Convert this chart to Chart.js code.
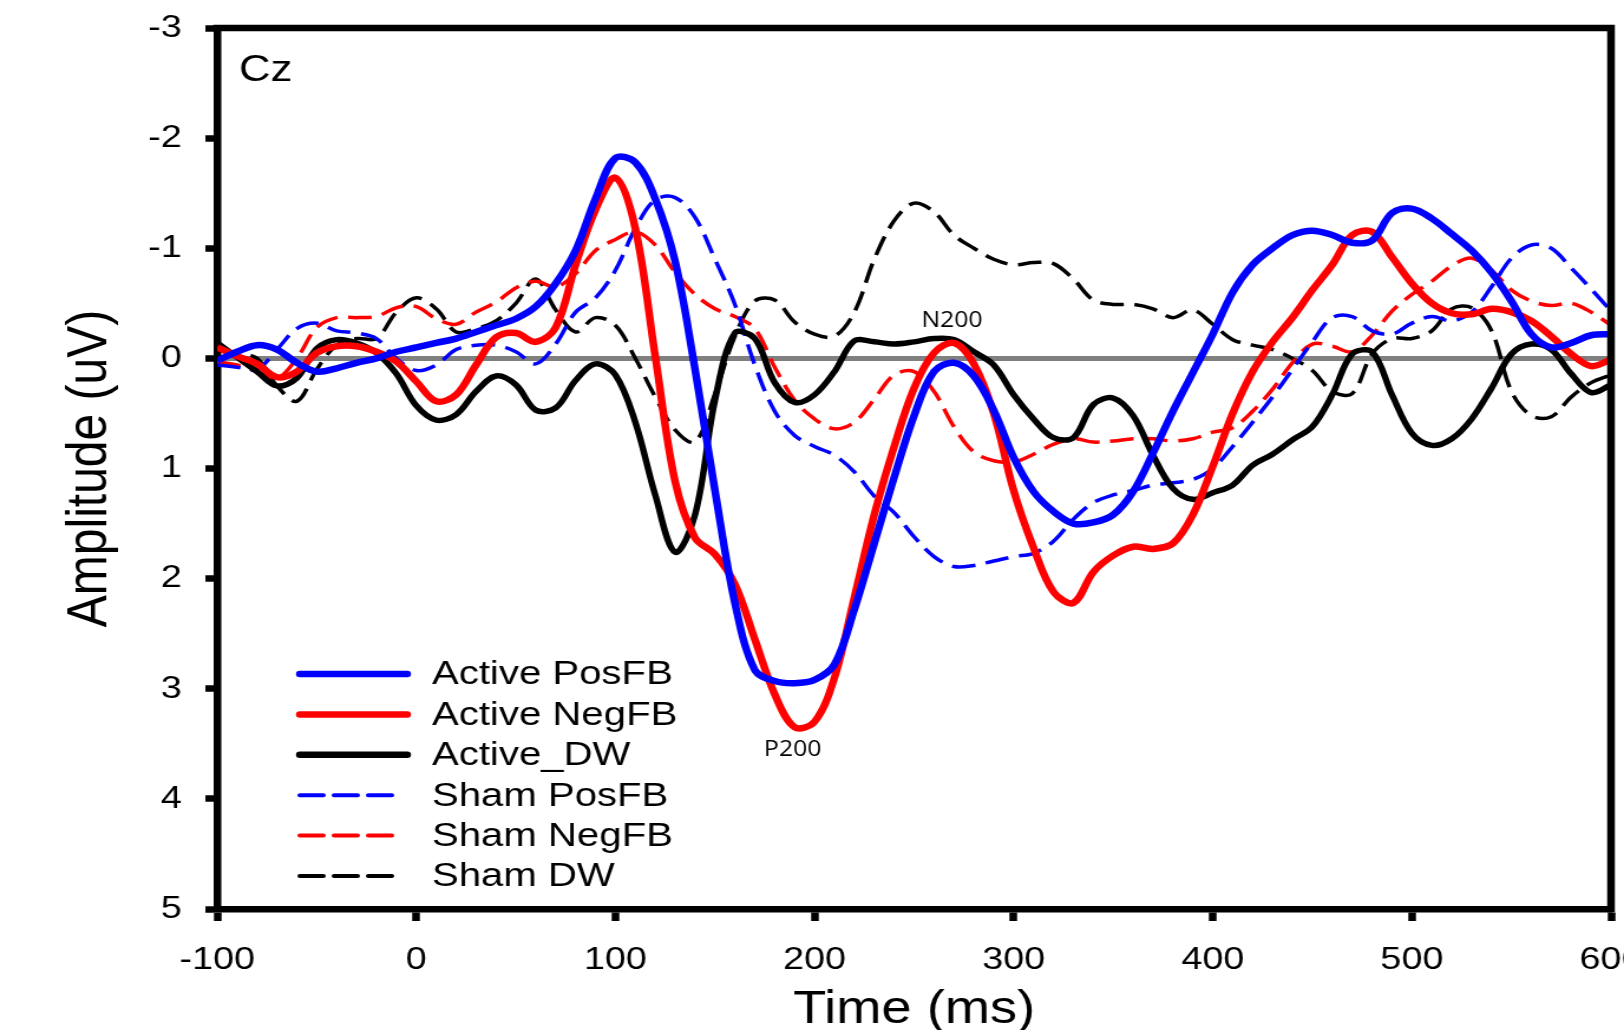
<!DOCTYPE html>
<html>
<head>
<meta charset="utf-8">
<title>Cz ERP</title>
<script src="https://cdn.jsdelivr.net/npm/chart.js@4.4.1/dist/chart.umd.min.js"></script>
<style>
  html, body { margin: 0; padding: 0; background: #fff; overflow: hidden; }
  /* the source figure is stretched sideways, so draw narrow and stretch */
  #wrap { width: 1376px; height: 1030px; transform: scaleX(1.18023); transform-origin: 0 0; }
</style>
</head>
<body>
<div id="wrap"><canvas id="erpChart"></canvas></div>
<script>
const times = [-100, -90, -80, -70, -60, -50, -40, -30, -20, -10, 0, 10, 20, 30, 40, 50, 60, 70, 80, 90,
  100, 110, 120, 130, 140, 150, 160, 170, 180, 190, 200, 210, 220, 230, 240, 250, 260, 270, 280, 290,
  300, 310, 320, 330, 340, 350, 360, 370, 380, 390, 400, 410, 420, 430, 440, 450, 460, 470, 480, 490,
  500, 510, 520, 530, 540, 550, 560, 570, 580, 590, 600];

const activePosFB = [0.02, -0.06, -0.12, -0.08, 0.04, 0.12, 0.09, 0.04, 0.0, -0.06, -0.10, -0.14, -0.18, -0.24, -0.30, -0.36, -0.47, -0.68, -0.98, -1.45,
  -1.82, -1.78, -1.45, -0.88, 0.10, 1.20, 2.22, 2.83, 2.93, 2.95, 2.92, 2.78, 2.28, 1.68, 1.08, 0.52, 0.12, 0.04, 0.16, 0.47,
  0.90, 1.21, 1.39, 1.50, 1.49, 1.42, 1.21, 0.86, 0.48, 0.13, -0.22, -0.60, -0.85, -1.00, -1.12, -1.16, -1.12, -1.05, -1.07, -1.32,
  -1.36, -1.27, -1.13, -0.98, -0.78, -0.52, -0.22, -0.10, -0.14, -0.21, -0.22];

const activeNegFB = [-0.10, -0.02, 0.05, 0.17, 0.12, -0.05, -0.11, -0.11, -0.06, 0.03, 0.21, 0.39, 0.33, 0.06, -0.19, -0.23, -0.15, -0.28, -0.85, -1.35,
  -1.64, -1.18, -0.02, 1.12, 1.63, 1.78, 2.05, 2.55, 3.05, 3.35, 3.30, 2.90, 2.17, 1.42, 0.80, 0.27, -0.05, -0.14, 0.05, 0.50,
  1.20, 1.72, 2.12, 2.22, 1.94, 1.79, 1.71, 1.73, 1.68, 1.42, 0.98, 0.50, 0.12, -0.15, -0.37, -0.62, -0.85, -1.12, -1.15, -0.92,
  -0.68, -0.50, -0.41, -0.40, -0.45, -0.42, -0.34, -0.20, -0.04, 0.07, 0.01];

const activeDW = [-0.14, -0.01, 0.12, 0.25, 0.18, -0.09, -0.17, -0.14, -0.05, 0.14, 0.43, 0.56, 0.51, 0.30, 0.16, 0.24, 0.47, 0.45, 0.20, 0.05,
  0.15, 0.58, 1.24, 1.76, 1.42, 0.38, -0.23, -0.18, 0.22, 0.40, 0.33, 0.12, -0.16, -0.15, -0.13, -0.15, -0.18, -0.17, -0.06, 0.06,
  0.33, 0.55, 0.72, 0.72, 0.42, 0.36, 0.52, 0.88, 1.18, 1.28, 1.22, 1.15, 0.97, 0.87, 0.74, 0.62, 0.33, -0.04, -0.06, 0.33,
  0.68, 0.79, 0.73, 0.55, 0.27, -0.04, -0.13, -0.08, 0.14, 0.31, 0.24];

const shamPosFB = [0.06, 0.08, 0.10, -0.08, -0.27, -0.32, -0.25, -0.23, -0.18, 0.0, 0.11, 0.06, -0.08, -0.12, -0.12, -0.06, 0.05, -0.13, -0.42, -0.55,
  -0.80, -1.18, -1.44, -1.46, -1.28, -0.90, -0.49, 0.06, 0.48, 0.70, 0.80, 0.88, 1.03, 1.25, 1.40, 1.62, 1.80, 1.89, 1.88, 1.84,
  1.80, 1.77, 1.66, 1.46, 1.31, 1.24, 1.20, 1.15, 1.13, 1.10, 1.00, 0.80, 0.58, 0.35, 0.10, -0.15, -0.37, -0.38, -0.25, -0.22,
  -0.32, -0.38, -0.34, -0.42, -0.65, -0.91, -1.03, -1.00, -0.82, -0.63, -0.43];

const shamNegFB = [0.03, 0.06, 0.12, 0.18, 0.0, -0.28, -0.37, -0.37, -0.38, -0.46, -0.47, -0.36, -0.31, -0.42, -0.51, -0.64, -0.70, -0.65, -0.77, -0.98,
  -1.08, -1.15, -1.03, -0.78, -0.58, -0.45, -0.38, -0.27, 0.08, 0.38, 0.55, 0.64, 0.58, 0.37, 0.15, 0.12, 0.30, 0.62, 0.85, 0.93,
  0.94, 0.87, 0.78, 0.73, 0.76, 0.75, 0.73, 0.73, 0.75, 0.73, 0.67, 0.63, 0.48, 0.28, 0.04, -0.13, -0.11, -0.06, -0.21, -0.43,
  -0.58, -0.70, -0.84, -0.91, -0.80, -0.62, -0.52, -0.48, -0.50, -0.42, -0.30];

const shamDW = [0.0, -0.04, 0.0, 0.25, 0.39, 0.10, -0.12, -0.18, -0.18, -0.42, -0.55, -0.45, -0.24, -0.27, -0.34, -0.50, -0.72, -0.44, -0.24, -0.37,
  -0.30, 0.0, 0.35, 0.65, 0.76, 0.32, -0.20, -0.52, -0.53, -0.33, -0.22, -0.20, -0.42, -0.90, -1.25, -1.41, -1.33, -1.12, -1.00, -0.90,
  -0.85, -0.87, -0.86, -0.72, -0.53, -0.49, -0.49, -0.45, -0.37, -0.44, -0.31, -0.17, -0.12, -0.08, 0.0, 0.11, 0.30, 0.32, -0.04, -0.18,
  -0.18, -0.25, -0.45, -0.46, -0.25, 0.30, 0.52, 0.53, 0.35, 0.22, 0.15];

const xTicks = [-100, 0, 100, 200, 300, 400, 500, 600];
const yTicks = [-3, -2, -1, 0, 1, 2, 3, 4, 5];

// text placed at data positions
const notes = [
  { text: 'Cz', x: -89, y: -2.61, size: 37, family: '"Liberation Sans", Arial, sans-serif', align: 'left' },
  { text: 'N200', x: 269, y: -0.34, size: 21, family: '"Liberation Sans Narrow", "Open Sans", sans-serif', align: 'center' },
  { text: 'P200', x: 189, y: 3.56, size: 21, family: '"Liberation Sans Narrow", "Open Sans", sans-serif', align: 'center' },
];

const FONT = '"Liberation Sans", Arial, sans-serif';

function series(label, values, color, width, dash) {
  return {
    label: label,
    data: times.map((t, i) => ({ x: t, y: values[i] })),
    borderColor: color,
    backgroundColor: color,
    borderWidth: width,
    borderDash: dash,
    pointRadius: 0,
    tension: 0.35,
    fill: false,
  };
}

const framePlugin = {
  id: 'frame',
  afterDatasetsDraw(chart) {
    const { ctx, chartArea: a } = chart;
    ctx.save();
    ctx.strokeStyle = '#000';
    ctx.lineWidth = 6.5;
    ctx.lineCap = 'square';
    ctx.beginPath();
    ctx.moveTo(a.left, a.top);
    ctx.lineTo(a.right, a.top);
    ctx.lineTo(a.right, a.bottom);
    ctx.stroke();
    ctx.restore();
  },
};

const notesPlugin = {
  id: 'notes',
  afterDraw(chart) {
    const { ctx, scales } = chart;
    ctx.save();
    ctx.fillStyle = '#000';
    ctx.textBaseline = 'middle';
    notes.forEach(n => {
      ctx.font = n.size + 'px ' + n.family;
      ctx.textAlign = n.align;
      ctx.fillText(n.text, scales.x.getPixelForValue(n.x), scales.y.getPixelForValue(n.y));
    });
    ctx.restore();
  },
};

const legendPlugin = {
  id: 'boxLegend',
  afterDraw(chart) {
    const ctx = chart.ctx;
    const x0 = 254, rowTop = 674, rowGap = 40.4;
    ctx.save();
    ctx.font = '34px ' + FONT;
    ctx.textBaseline = 'middle';
    ctx.textAlign = 'left';
    chart.data.datasets.forEach((ds, i) => {
      const y = rowTop + i * rowGap;
      const dashed = ds.borderDash && ds.borderDash.length;
      ctx.strokeStyle = ds.borderColor;
      ctx.lineCap = 'round';
      ctx.lineWidth = dashed ? 4 : 6.5;
      ctx.setLineDash(dashed ? [20, 9] : []);
      ctx.beginPath();
      ctx.moveTo(x0, y);
      ctx.lineTo(dashed ? x0 + 78 : x0 + 91, y);
      ctx.stroke();
      ctx.setLineDash([]);
      ctx.fillStyle = '#000';
      ctx.fillText(ds.label, 366, y + 1);
    });
    ctx.restore();
  },
};

new Chart(document.getElementById('erpChart'), {
  type: 'line',
  data: {
    datasets: [
      series('Active PosFB', activePosFB, '#0000ff', 6.5, []),
      series('Active NegFB', activeNegFB, '#ff0000', 6.5, []),
      series('Active_DW', activeDW, '#000000', 5.5, []),
      series('Sham PosFB', shamPosFB, '#0000ff', 3.5, [20, 9]),
      series('Sham NegFB', shamNegFB, '#ff0000', 3.5, [20, 9]),
      series('Sham DW', shamDW, '#000000', 3.5, [20, 9]),
    ],
  },
  options: {
    responsive: true,
    maintainAspectRatio: false,
    animation: false,
    layout: { padding: { top: 28, right: 11, bottom: 0, left: 0 } },
    plugins: {
      legend: { display: false },
      tooltip: { enabled: false },
    },
    scales: {
      x: {
        type: 'linear',
        min: -100,
        max: 600,
        afterBuildTicks: s => { s.ticks = xTicks.map(v => ({ value: v })); },
        afterFit: s => { s.height = 121; s.paddingLeft = 0; s.paddingRight = 0; },
        ticks: { color: '#000', font: { family: FONT, size: 32 }, padding: 20, maxRotation: 0 },
        grid: { drawOnChartArea: false, drawTicks: true, tickLength: 12, tickWidth: 6.5, tickColor: '#000' },
        border: { display: true, color: '#000', width: 6.5 },
        title: {
          display: true,
          text: 'Time (ms)',
          color: '#000',
          font: { family: FONT, size: 46, lineHeight: 0.87 },
          padding: 0,
        },
      },
      y: {
        reverse: true,
        min: -3,
        max: 5,
        afterBuildTicks: s => { s.ticks = yTicks.map(v => ({ value: v })); },
        afterFit: s => { s.width = 184; s.paddingTop = 0; s.paddingBottom = 0; },
        ticks: { color: '#000', font: { family: FONT, size: 32 }, padding: 20 },
        grid: {
          drawOnChartArea: true,
          color: c => (c.tick && c.tick.value === 0 ? '#808080' : 'rgba(0,0,0,0)'),
          lineWidth: 5,
          drawTicks: true,
          tickLength: 10,
          tickWidth: 6.5,
          tickColor: '#000',
        },
        border: { display: true, color: '#000', width: 6.5 },
        title: {
          display: true,
          text: 'Amplitude (uV)',
          color: '#000',
          font: { family: FONT, size: 48, lineHeight: 1 },
          padding: { top: 53, bottom: 0 },
        },
      },
    },
  },
  plugins: [framePlugin, notesPlugin, legendPlugin],
});
</script>
</body>
</html>
